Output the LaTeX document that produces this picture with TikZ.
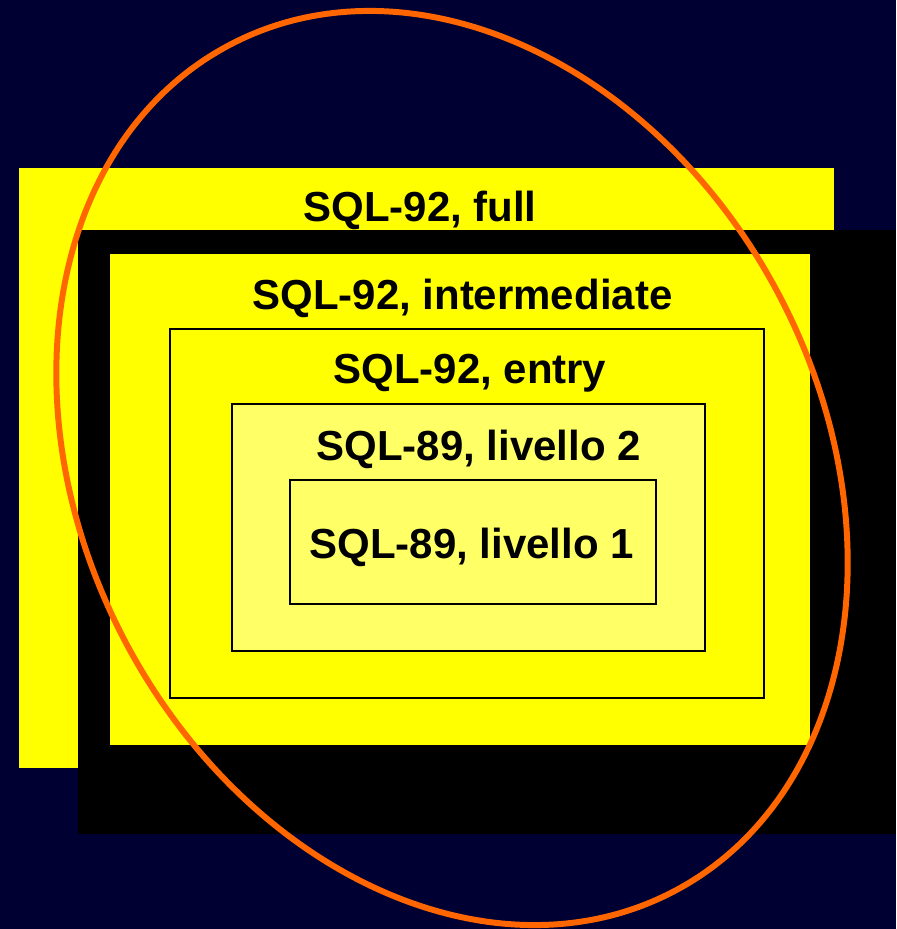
\documentclass[tikz,border=0pt]{standalone}
\usepackage{fontspec}
\setmainfont{Liberation Sans}
\definecolor{navy}{HTML}{000033}
\definecolor{giallo}{HTML}{FFFF00}
\definecolor{giallochiaro}{HTML}{FFFF66}
\definecolor{arancio}{HTML}{FF6600}
\begin{document}
\begin{tikzpicture}[x=0.02cm, y=-0.02cm,
  livello/.style={anchor=base west, inner sep=0pt, font=\fontsize{23.9}{28}\selectfont\bfseries},
  box/.style={draw=black, line width=0.8pt}]
\useasboundingbox (0,0) rectangle (896,929);
\fill[navy] (0,0) rectangle (896,929);

% full e intermediate
\fill[giallo] (19,168) rectangle (834,768);
\fill[black] (78,230) rectangle (896,834);
\fill[giallo] (110,254) rectangle (810,745);

% entry, livello 2, livello 1
\draw[box, fill=giallo] (170,329) rectangle (764,698);
\draw[box, fill=giallochiaro] (232,404) rectangle (705,651);
\draw[box, fill=giallochiaro] (290,480) rectangle (656,604);

\node[livello] (full) at (303,221) {SQL-92, full};
\node[livello] (inter) at (252,309) {SQL-92, intermediate};
\node[livello] (entry) at (333,383) {SQL-92, entry};
\node[livello] (liv2) at (316,460) {SQL-89, livello 2};
\node[livello] (liv1) at (309,558) {SQL-89, livello 1};

\draw[arancio, line width=3.4pt, rotate around={-62.4:(452,468)}] (452,468) ellipse [x radius=478, y radius=370];

\end{tikzpicture}
\end{document}
